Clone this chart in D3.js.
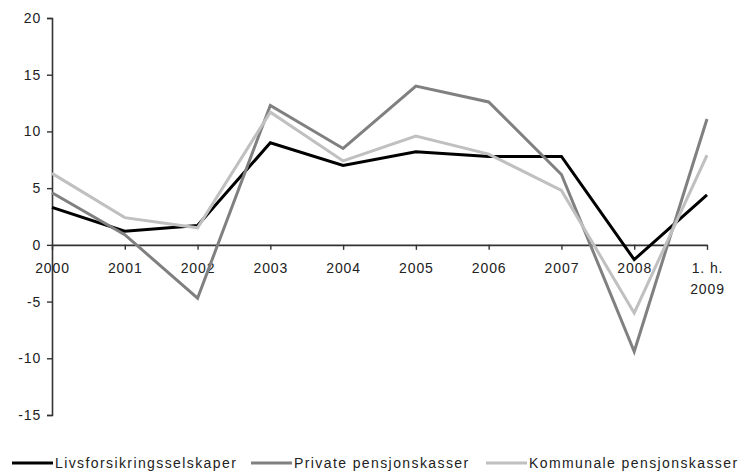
<!DOCTYPE html>
<html>
<head>
<meta charset="utf-8">
<script src="https://cdn.jsdelivr.net/npm/d3@7"></script>
<style>
  html, body { margin: 0; padding: 0; background: #fff; }
  svg { display: block; }
  text { font-family: "Liberation Sans", Arial, sans-serif; fill: #222; }
</style>
</head>
<body>
<svg id="chart" width="740" height="474"></svg>
<script>
// Annual returns (%) by type of pension provider
const categories = ["2000", "2001", "2002", "2003", "2004", "2005", "2006", "2007", "2008", "1. h. 2009"];
const categoryLines = [["2000"], ["2001"], ["2002"], ["2003"], ["2004"], ["2005"], ["2006"], ["2007"], ["2008"], ["1. h.", "2009"]];
const livsforsikring = [3.3, 1.2, 1.7, 9.0, 7.0, 8.2, 7.8, 7.8, -1.3, 4.4];
const privatePensjon = [4.6, 0.9, -4.7, 12.3, 8.5, 14.0, 12.6, 6.2, -9.4, 11.1];
const kommunalePensjon = [6.3, 2.4, 1.5, 11.7, 7.4, 9.6, 8.0, 4.8, -6.0, 7.9];
const seriesNames = ["Livsforsikringsselskaper", "Private pensjonskasser", "Kommunale pensjonskasser"];
const seriesColors = ["#000000", "#808080", "#c0c0c0"];
const yTicks = [-15, -10, -5, 0, 5, 10, 15, 20];

const series = [livsforsikring, privatePensjon, kommunalePensjon].map((values, i) => ({
  name: seriesNames[i], color: seriesColors[i], values
}));

const svg = d3.select("#chart");
const x = d3.scalePoint().domain(categories).range([52, 707]);
const y = d3.scaleLinear().domain([-15, 20]).range([415, 18]);

// Y axis (plain hyphen for negatives)
const yAxis = svg.append("g")
  .attr("transform", "translate(52,0)")
  .call(d3.axisLeft(y).tickValues(yTicks).tickSize(5).tickPadding(6).tickFormat(d => String(d)));
yAxis.select(".domain").attr("stroke", "#333").attr("stroke-width", 1.6);
yAxis.selectAll(".tick line").attr("stroke", "#333").attr("stroke-width", 1.4);
yAxis.selectAll(".tick text")
  .style("font-size", "14px").style("letter-spacing", "0.8px").attr("fill", "#222");

// X axis along the zero line
const xAxis = svg.append("g")
  .attr("transform", `translate(0,${y(0)})`)
  .call(d3.axisBottom(x).tickSize(5).tickSizeOuter(0).tickPadding(13).tickFormat(""));
xAxis.select(".domain").attr("stroke", "#333").attr("stroke-width", 1.6);
xAxis.selectAll(".tick line").attr("stroke", "#333").attr("stroke-width", 1.4);
xAxis.selectAll(".tick text").each(function(d, i) {
  const t = d3.select(this)
    .style("font-size", "14px").style("letter-spacing", "0.9px").attr("fill", "#222");
  categoryLines[i].forEach((line, j) => {
    t.append("tspan").attr("x", 0).attr("dy", j === 0 ? "0.71em" : "1.55em").text(line);
  });
});
xAxis.selectAll(".tick text").attr("dy", null);

// Series lines (drawn in legend order)
const line = d3.line().x((d, i) => x(categories[i])).y(d => y(d));
svg.append("g").selectAll("path")
  .data(series)
  .join("path")
  .attr("d", d => line(d.values))
  .attr("fill", "none")
  .attr("stroke", d => d.color)
  .attr("stroke-width", 3)
  .attr("stroke-linejoin", "miter");

// Legend
const legendX = [12, 251, 486];
const legend = svg.append("g").attr("transform", "translate(0,463)");
const items = legend.selectAll("g").data(series).join("g")
  .attr("transform", (d, i) => `translate(${legendX[i]},0)`);
items.append("line")
  .attr("x1", 0).attr("x2", 41).attr("y1", 0).attr("y2", 0)
  .attr("stroke", d => d.color).attr("stroke-width", 3);
items.append("text")
  .attr("x", 43).attr("y", 5)
  .style("font-size", "14px").style("letter-spacing", "1.4px")
  .text(d => d.name);
</script>
</body>
</html>
